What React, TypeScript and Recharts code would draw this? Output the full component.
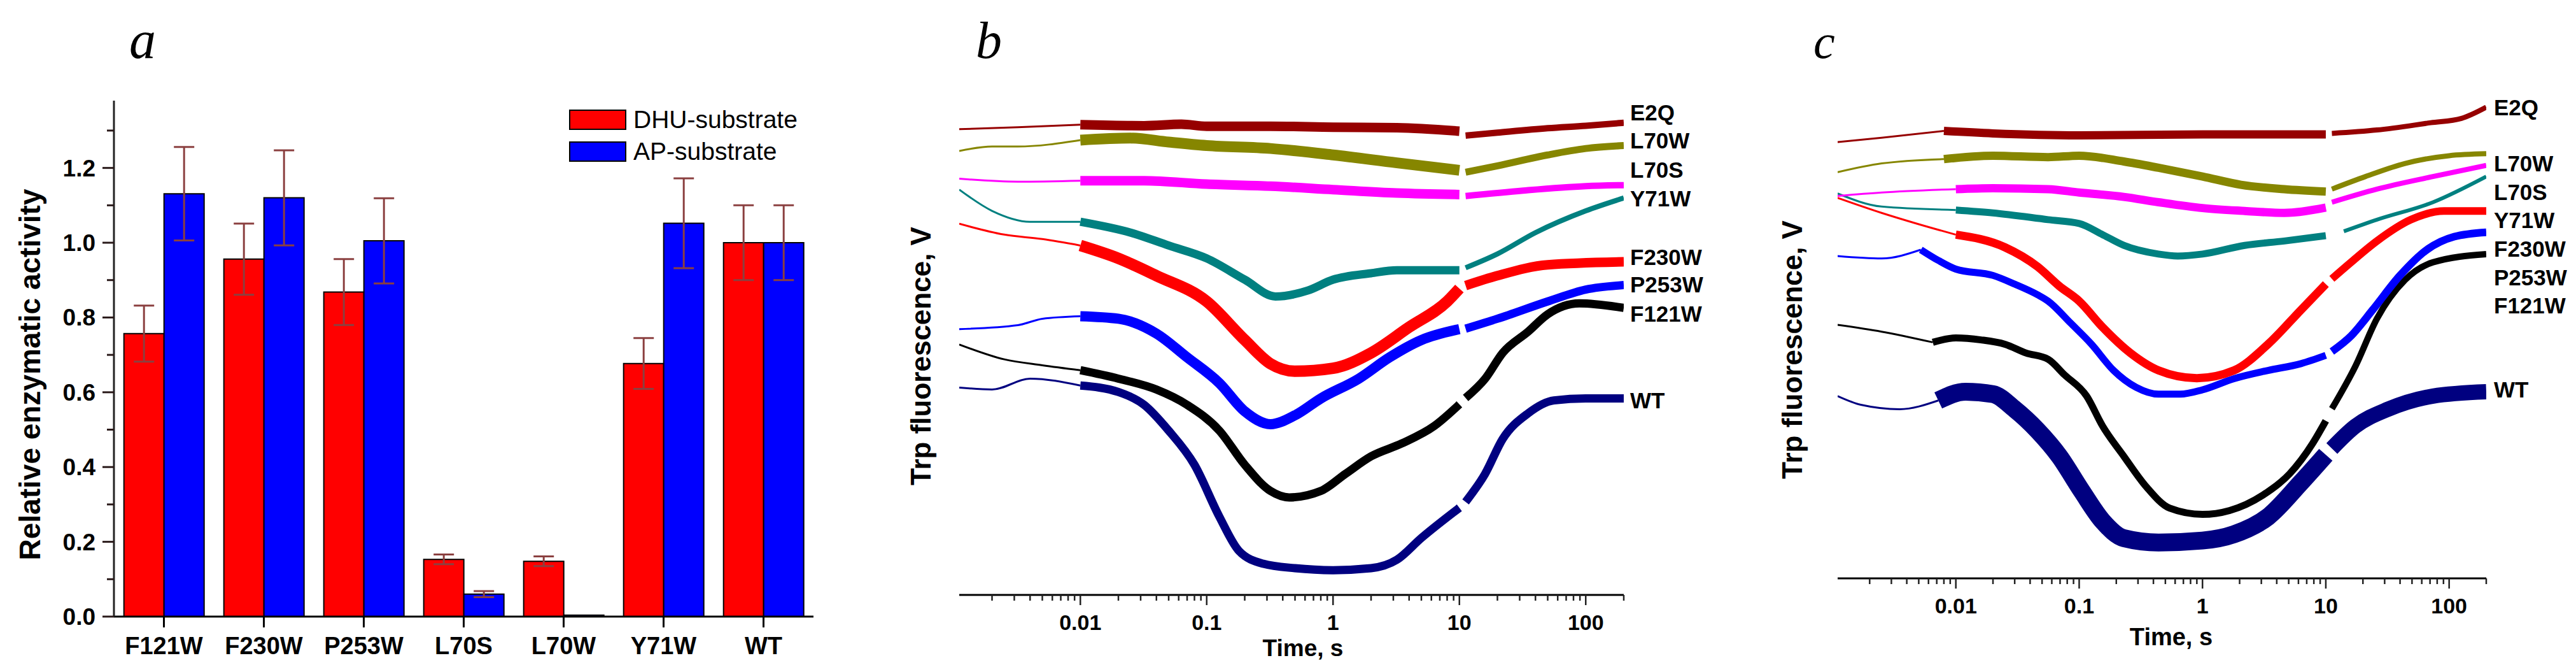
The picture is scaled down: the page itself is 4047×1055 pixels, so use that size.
import React from "react";
import { BarChart, Bar, ErrorBar, XAxis, YAxis, Legend, LineChart, Line } from "recharts";

const SANS = "'Liberation Sans', Arial, sans-serif";
const SERIF = "'Liberation Serif', 'Times New Roman', serif";

// panel a: relative enzymatic activity
const MUTANTS = ["F121W", "F230W", "P253W", "L70S", "L70W", "Y71W", "WT"];
const DHU = [0.757, 0.956, 0.868, 0.153, 0.148, 0.677, 1.0];
const DHU_ERR = [0.075, 0.095, 0.088, 0.013, 0.013, 0.068, 0.1];
const AP = [1.131, 1.12, 1.005, 0.06, 0.004, 1.052, 1.0];
const AP_ERR = [0.125, 0.127, 0.114, 0.008, 0, 0.12, 0.1];
const ACTIVITY_TICKS = [0, 0.1, 0.2, 0.3, 0.4, 0.5, 0.6, 0.7, 0.8, 0.9, 1.0, 1.1, 1.2, 1.3];
const SUBSTRATES = ["DHU-substrate", "AP-substrate"];

// panels b, c: log time axis
const TIME_TICKS = [
  0.002, 0.003, 0.004, 0.005, 0.006, 0.007, 0.008, 0.009,
  0.01, 0.02, 0.03, 0.04, 0.05, 0.06, 0.07, 0.08, 0.09,
  0.1, 0.2, 0.3, 0.4, 0.5, 0.6, 0.7, 0.8, 0.9,
  1, 2, 3, 4, 5, 6, 7, 8, 9,
  10, 20, 30, 40, 50, 60, 70, 80, 90,
  100, 200,
];
const TIME_LABELS = [0.01, 0.1, 1, 10, 100];

const LABELS = ["E2Q", "L70W", "L70S", "Y71W", "F230W", "P253W", "F121W", "WT"];
const COLORS = ["#960000", "#868600", "#ff00ff", "#008080", "#ff0000", "#0000ff", "#000000", "#000080"];

// panel b traces [time s, fluorescence a.u.]
const B_E2Q = [[0.0011, 94.1], [0.0032, 94.5], [0.01, 95.0], [0.032, 94.8], [0.063, 95.1], [0.1, 94.7], [0.32, 94.7], [1, 94.5], [3.2, 94.4], [10, 93.7], [11.2, 92.8], [20, 93.4], [50, 94.3], [100, 94.8], [200, 95.4]];
const B_L70W = [[0.0011, 89.7], [0.002, 90.6], [0.0032, 90.6], [0.01, 91.9], [0.025, 92.3], [0.05, 91.5], [0.1, 90.8], [0.32, 90.2], [1, 88.9], [3.2, 87.3], [10, 85.8], [11.2, 85.4], [20, 86.7], [50, 88.9], [100, 90.2], [200, 90.8]];
const B_L70S = [[0.0011, 84.1], [0.0032, 83.5], [0.01, 83.7], [0.032, 83.7], [0.1, 83.0], [0.32, 82.6], [1, 81.9], [3.2, 81.2], [10, 80.9], [11.2, 80.6], [32, 81.7], [100, 82.6], [200, 82.8]];
const B_Y71W = [[0.0011, 81.9], [0.002, 77.6], [0.004, 75.4], [0.01, 75.4], [0.025, 73.2], [0.05, 70.6], [0.1, 68.0], [0.2, 63.7], [0.35, 60.3], [0.63, 61.5], [1, 63.7], [2, 65.0], [3.2, 65.6], [10, 65.6], [11.2, 66.1], [20, 68.9], [40, 73.2], [100, 77.6], [200, 80.2]];
const B_F230W = [[0.0011, 75.0], [0.0025, 72.8], [0.005, 71.9], [0.01, 70.6], [0.02, 68.0], [0.04, 64.5], [0.1, 59.3], [0.2, 51.5], [0.32, 46.7], [0.5, 45.2], [1, 45.8], [2, 48.9], [4, 54.1], [8, 59.3], [10, 61.9], [11.2, 62.5], [20, 64.5], [50, 66.7], [200, 67.3]];
const B_P253W = [[0.0011, 53.7], [0.0032, 54.5], [0.005, 55.8], [0.01, 56.3], [0.02, 55.8], [0.04, 52.8], [0.07, 48.0], [0.126, 42.8], [0.2, 37.1], [0.32, 34.5], [0.5, 36.3], [0.8, 39.7], [1.6, 43.7], [2.8, 48.0], [5, 51.5], [10, 53.7], [11.2, 53.8], [20, 55.8], [50, 59.3], [100, 61.7], [200, 62.6]];
const B_F121W = [[0.0011, 50.6], [0.0025, 47.6], [0.005, 46.4], [0.01, 45.4], [0.02, 43.7], [0.04, 41.5], [0.07, 38.4], [0.126, 33.2], [0.2, 26.3], [0.32, 21.0], [0.45, 19.7], [0.8, 21.0], [1.26, 24.5], [2, 28.0], [3.5, 30.6], [6.3, 34.1], [10, 38.5], [11.2, 39.8], [16, 43.7], [22, 48.9], [35, 53.2], [50, 56.7], [89, 58.9], [200, 58.0]];
const B_WT = [[0.0011, 41.9], [0.002, 41.5], [0.004, 43.7], [0.01, 42.3], [0.02, 41.0], [0.032, 38.4], [0.05, 33.2], [0.08, 26.3], [0.126, 15.8], [0.18, 8.9], [0.28, 6.3], [0.5, 5.4], [1, 5.0], [2, 5.4], [3.2, 7.1], [5, 11.5], [10, 17.6], [11.2, 18.8], [16, 24.5], [22, 31.5], [35, 36.7], [56, 39.3], [100, 39.7], [200, 39.7]];

// panel c traces
const C_E2Q = [[0.0011, 90.0], [0.0025, 90.9], [0.008, 92.3], [0.02, 91.8], [0.1, 91.4], [1, 91.6], [10, 91.6], [11.2, 91.8], [26, 92.5], [71, 94.0], [126, 94.9], [200, 97.2]];
const C_L70W = [[0.0011, 83.8], [0.0025, 85.6], [0.008, 86.5], [0.02, 87.2], [0.056, 86.9], [0.1, 87.2], [0.23, 86.0], [0.44, 84.7], [1, 82.9], [2.05, 81.2], [4.6, 80.3], [10, 79.8], [11.2, 80.3], [21, 82.9], [44, 85.6], [100, 87.2], [200, 87.6]];
const C_L70S = [[0.0011, 78.9], [0.0025, 79.6], [0.01, 80.3], [0.02, 80.5], [0.056, 80.3], [0.1, 79.6], [0.23, 78.7], [0.44, 77.6], [1, 76.4], [2.2, 75.8], [4.6, 75.4], [10, 76.5], [11.2, 77.6], [26, 80.3], [74, 82.9], [200, 85.2]];
const C_Y71W = [[0.0011, 79.4], [0.0025, 76.7], [0.01, 76.0], [0.02, 75.4], [0.056, 74.0], [0.1, 73.2], [0.155, 70.9], [0.23, 68.7], [0.44, 66.9], [0.63, 66.5], [1, 66.9], [2.2, 68.7], [4.6, 69.6], [10, 70.7], [14, 71.6], [26, 74.0], [74, 77.6], [200, 82.9]];
const C_F230W = [[0.0011, 78.5], [0.0025, 75.4], [0.0048, 73.2], [0.01, 70.9], [0.025, 68.3], [0.046, 64.3], [0.069, 60.3], [0.1, 57.2], [0.155, 51.8], [0.26, 46.5], [0.44, 42.9], [0.9, 41.3], [1.8, 42.9], [3.4, 48.3], [6.3, 55.4], [10, 60.7], [11.2, 61.8], [16, 65.2], [26, 69.6], [49, 74.0], [91, 75.8], [200, 75.8]];
const C_P253W = [[0.0011, 66.5], [0.0025, 66.0], [0.0052, 67.8], [0.0072, 65.6], [0.01, 63.8], [0.02, 62.5], [0.03, 60.7], [0.046, 58.5], [0.056, 57.2], [0.085, 52.7], [0.126, 48.3], [0.19, 42.9], [0.29, 39.4], [0.44, 38.0], [0.66, 38.0], [1, 38.9], [1.8, 41.2], [3.4, 42.9], [6.3, 44.3], [10, 46.0], [11.2, 46.8], [16, 50.0], [24, 55.4], [40, 62.5], [66, 67.8], [110, 70.5], [200, 71.4]];
const C_F121W = [[0.0011, 52.3], [0.0025, 50.9], [0.0065, 48.7], [0.01, 49.6], [0.016, 49.2], [0.025, 48.3], [0.037, 46.5], [0.056, 45.2], [0.076, 42.0], [0.115, 37.6], [0.155, 31.4], [0.23, 25.2], [0.35, 18.9], [0.54, 14.5], [1, 13.2], [1.66, 14.0], [3.1, 17.2], [5.1, 21.6], [7.8, 27.8], [10, 32.5], [11.2, 35.0], [17.4, 43.8], [26, 53.6], [44, 61.6], [74, 65.2], [200, 66.9]];
const C_WT = [[0.0011, 37.6], [0.0017, 35.8], [0.0035, 34.9], [0.0072, 36.7], [0.012, 38.5], [0.02, 38.0], [0.03, 34.9], [0.046, 30.5], [0.069, 25.2], [0.105, 18.0], [0.155, 11.8], [0.23, 8.3], [0.44, 7.4], [1, 7.8], [1.8, 9.1], [3.4, 12.7], [6.3, 19.8], [10, 25.5], [11.2, 26.8], [17.4, 31.4], [32, 34.9], [74, 37.6], [200, 38.5]];

const B_SERIES = [B_E2Q, B_L70W, B_L70S, B_Y71W, B_F230W, B_P253W, B_F121W, B_WT];
const C_SERIES = [C_E2Q, C_L70W, C_L70S, C_Y71W, C_F230W, C_P253W, C_F121W, C_WT];

// noise band widths (mid / late part of each trace)
const B_WIDTHS = [[15, 10], [17, 11], [15, 10], [13, 8], [18, 15], [16, 13], [13, 13], [13, 13]];
const C_WIDTHS = [[13, 8], [13, 8], [13, 8], [11, 6], [13, 12], [11, 12], [11, 10], [28, 24]];
const B_LABEL_Y = [189, 233, 279, 324, 416, 459, 505, 641];
const C_LABEL_Y = [181, 269, 314, 358, 403, 448, 492, 624];

const activityRows = MUTANTS.map((name, i) => ({
  name,
  dhu: DHU[i],
  dhuErr: DHU_ERR[i],
  ap: AP[i],
  apErr: AP_ERR[i],
}));

function splitTrace(pts: number[][]) {
  const rows = pts.map(([t, v]) => ({ t, v }));
  const i1 = rows.findIndex((r) => r.t > 0.005);
  let i2 = 0;
  rows.forEach((r, i) => {
    if (r.t <= 10) i2 = i;
  });
  return {
    early: rows.slice(0, i1 + 1),
    mid: rows.slice(i1, i2 + 1),
    late: rows.slice(i2 + 1),
  };
}

function ActivityTick({ x, y, payload }: any) {
  const v = payload.value;
  const major = Math.round(v * 10) % 2 === 0;
  return (
    <g>
      <line x1={x - (major ? 18 : 11)} x2={x} y1={y} y2={y} stroke="#2a1a1a" strokeWidth={3} />
      {major && (
        <text x={x - 29} y={y + 13} textAnchor="end" fontSize={37} fontWeight="bold" fontFamily={SANS} fill="#000">
          {v.toFixed(1)}
        </text>
      )}
    </g>
  );
}

function TimeTick({ x, y, payload }: any) {
  const v = payload.value;
  const major = TIME_LABELS.includes(v);
  return (
    <g>
      <line x1={x} x2={x} y1={y} y2={y + (major ? 16 : 9)} stroke="#222" strokeWidth={2.5} />
      {major && (
        <text x={x} y={y + 55} textAnchor="middle" fontSize={34} fontWeight="bold" fontFamily={SANS} fill="#000">
          {String(v)}
        </text>
      )}
    </g>
  );
}

function LegendBox({ payload }: any) {
  const items = [...(payload || [])].sort(
    (p: any, q: any) => SUBSTRATES.indexOf(p.value) - SUBSTRATES.indexOf(q.value)
  );
  return (
    <div>
      {items.map((p: any) => (
        <div key={p.value} style={{ display: "flex", alignItems: "center", height: 50 }}>
          <span
            style={{
              display: "inline-block",
              width: 90,
              height: 32,
              background: p.color,
              border: "2px solid #000",
              boxSizing: "border-box",
            }}
          />
          <span style={{ marginLeft: 11, fontSize: 39, fontFamily: SANS, color: "#000", lineHeight: "50px" }}>
            {p.value}
          </span>
        </div>
      ))}
    </div>
  );
}

function ActivityPanel() {
  return (
    <div style={{ position: "absolute", left: 0, top: 0 }}>
      <BarChart
        width={1330}
        height={1055}
        data={activityRows}
        margin={{ top: 158, right: 52, left: 79, bottom: 27 }}
        barCategoryGap="10%"
        barGap={0}
      >
        <XAxis
          dataKey="name"
          tickSize={17}
          tickMargin={15}
          tickLine={{ stroke: "#000", strokeWidth: 3 }}
          axisLine={{ stroke: "#000", strokeWidth: 3 }}
          tick={{ fill: "#000", fontSize: 38, fontWeight: "bold", fontFamily: SANS }}
          interval={0}
          height={60}
        />
        <XAxis xAxisId="top" orientation="top" dataKey="name" tick={false} tickLine={false} height={0}
          axisLine={{ stroke: "#7a3030", strokeWidth: 2.5 }} />
        <YAxis
          type="number"
          domain={[0, 1.38]}
          allowDataOverflow
          ticks={ACTIVITY_TICKS}
          interval={0}
          tickSize={0}
          tickMargin={0}
          tickLine={false}
          tick={<ActivityTick />}
          axisLine={{ stroke: "#222", strokeWidth: 3 }}
          width={100}
        />
        <YAxis yAxisId="right" orientation="right" domain={[0, 1.38]} tick={false} tickLine={false} width={0}
          axisLine={{ stroke: "#7a3030", strokeWidth: 2.5 }} />
        <Legend layout="vertical" align="center" verticalAlign="middle"
          wrapperStyle={{ left: 894, top: 163, width: "auto", height: "auto" }}
          content={<LegendBox />} />
        <Bar dataKey="dhu" name="DHU-substrate" fill="#ff0000" stroke="#000" strokeWidth={2} isAnimationActive={false}>
          <ErrorBar dataKey="dhuErr" width={16} stroke="#8b4040" strokeWidth={3} direction="y" />
        </Bar>
        <Bar dataKey="ap" name="AP-substrate" fill="#0000ff" stroke="#000" strokeWidth={2} isAnimationActive={false}>
          <ErrorBar dataKey="apErr" width={16} stroke="#8b4040" strokeWidth={3} direction="y" />
        </Bar>
      </BarChart>
    </div>
  );
}

function TracePanel({ left, width, margin, series, widths, rightColor }: any) {
  const lines: any[] = [];
  series.forEach((pts: number[][], i: number) => {
    const seg = splitTrace(pts);
    const color = COLORS[i];
    const parts: [string, any[], number][] = [
      ["e", seg.early, 3],
      ["m", seg.mid, widths[i][0]],
      ["l", seg.late, widths[i][1]],
    ];
    parts.forEach(([k, data, w]) => {
      if (data.length < 2) return;
      lines.push(
        <Line
          key={LABELS[i] + k}
          data={data}
          dataKey="v"
          type="monotone"
          stroke={color}
          strokeWidth={w}
          strokeLinejoin="round"
          dot={false}
          activeDot={false}
          isAnimationActive={false}
        />
      );
    });
  });
  return (
    <div style={{ position: "absolute", left, top: 0 }}>
      <LineChart width={width} height={1055} margin={margin}>
        <XAxis
          type="number"
          dataKey="t"
          scale="log"
          domain={[0.0011, 200]}
          allowDataOverflow
          ticks={TIME_TICKS}
          interval={0}
          tickSize={0}
          tickMargin={0}
          tickLine={false}
          tick={<TimeTick />}
          axisLine={{ stroke: "#000", strokeWidth: 3 }}
          height={60}
        />
        <XAxis xAxisId="top" orientation="top" type="number" domain={[0, 1]} tick={false} tickLine={false}
          height={0} axisLine={{ stroke: "#b05050", strokeWidth: 3 }} />
        <YAxis type="number" domain={[0, 100]} allowDataOverflow tick={false} tickLine={false} width={0}
          axisLine={{ stroke: "#000", strokeWidth: 3 }} />
        <YAxis yAxisId="right" orientation="right" type="number" domain={[0, 1]} tick={false} tickLine={false}
          width={0} axisLine={{ stroke: rightColor, strokeWidth: 2 }} />
        {lines.reverse()}
      </LineChart>
    </div>
  );
}

function Texts() {
  const bold = { fontFamily: SANS, fontWeight: "bold", fill: "#000" } as any;
  return (
    <svg width={4047} height={1055} style={{ position: "absolute", left: 0, top: 0, pointerEvents: "none" }}>
      <text x={203} y={91} fontFamily={SERIF} fontStyle="italic" fontSize={84}>a</text>
      <text x={1533} y={91} fontFamily={SERIF} fontStyle="italic" fontSize={82}>b</text>
      <text x={2849} y={91} fontFamily={SERIF} fontStyle="italic" fontSize={76}>c</text>

      <text transform="translate(63,588) rotate(-90)" textAnchor="middle" fontSize={46} {...bold}>
        Relative enzymatic activity
      </text>
      <text transform="translate(1462,559) rotate(-90)" textAnchor="middle" fontSize={44} {...bold}>
        Trp fluorescence, V
      </text>
      <text transform="translate(2831,549) rotate(-90)" textAnchor="middle" fontSize={44} {...bold}>
        Trp fluorescence, V
      </text>

      <text x={2047} y={1030} textAnchor="middle" fontSize={37} {...bold}>Time, s</text>
      <text x={3411} y={1013} textAnchor="middle" fontSize={38} {...bold}>Time, s</text>

      {LABELS.map((name, i) => (
        <text key={"b" + name} x={2561} y={B_LABEL_Y[i]} fontSize={35} {...bold}>{name}</text>
      ))}
      {LABELS.map((name, i) => (
        <text key={"c" + name} x={3918} y={C_LABEL_Y[i]} fontSize={35} {...bold}>{name}</text>
      ))}
    </svg>
  );
}

export default function App() {
  return (
    <div style={{ position: "absolute", left: 0, top: 0, width: 4047, height: 1055, background: "#fff" }}>
      <ActivityPanel />
      <TracePanel
        left={1400}
        width={1250}
        margin={{ top: 157, right: 99, left: 107, bottom: 61 }}
        series={B_SERIES}
        widths={B_WIDTHS}
        rightColor="#222"
      />
      <TracePanel
        left={2780}
        width={1267}
        margin={{ top: 147, right: 141, left: 107, bottom: 87 }}
        series={C_SERIES}
        widths={C_WIDTHS}
        rightColor="#c06060"
      />
      <Texts />
    </div>
  );
}
